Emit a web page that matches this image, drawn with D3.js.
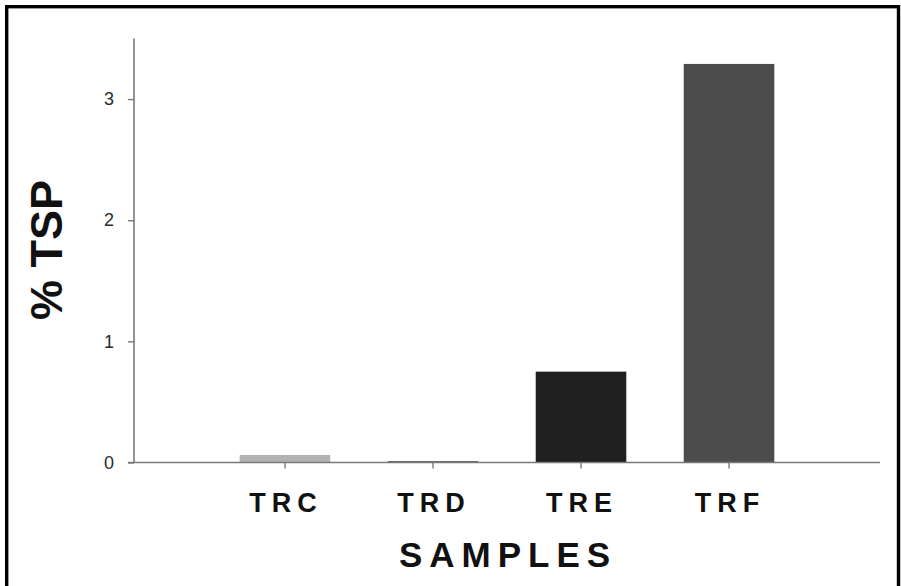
<!DOCTYPE html>
<html>
<head>
<meta charset="utf-8">
<script src="https://cdn.jsdelivr.net/npm/d3@7"></script>
<style>
  html, body { margin: 0; padding: 0; background: #fff; }
  svg { display: block; }
  text { font-family: Arial, "Liberation Sans", sans-serif; }
</style>
</head>
<body>
<svg id="chart" width="901" height="586"></svg>
<script>
const categories = ["TRC", "TRD", "TRE", "TRF"];
const values = [0.062, 0.01, 0.75, 3.29];
const barColors = ["#b2b2b2", "#2a2a2a", "#202020", "#4c4c4c"];
const yTicks = [0, 1, 2, 3];
const yLabel = "% TSP";
const xLabel = "SAMPLES";

const svg = d3.select("#chart");

// frame
svg.append("rect")
  .attr("x", 6.7).attr("y", 6.7)
  .attr("width", 891.8).attr("height", 620)
  .attr("fill", "#fff")
  .attr("stroke", "#000")
  .attr("stroke-width", 3.4);

const x = d3.scaleBand()
  .domain(categories)
  .range([134, 880])
  .paddingInner(0.388)
  .paddingOuter(0.714);

const y = d3.scaleLinear()
  .domain([0, 3.5])
  .range([462.5, 38.5]);

// bars
svg.append("g").selectAll("rect")
  .data(categories)
  .join("rect")
  .attr("x", d => x(d))
  .attr("width", x.bandwidth())
  .attr("y", (d, i) => y(values[i]))
  .attr("height", (d, i) => Math.max(1.5, y(0) - y(values[i])))
  .attr("fill", (d, i) => barColors[i]);

// y axis
const yAxis = svg.append("g")
  .attr("transform", "translate(134,0)")
  .call(d3.axisLeft(y).tickValues(yTicks).tickSize(6).tickPadding(14).tickFormat(d3.format("d")));
yAxis.select(".domain").attr("stroke", "#7a7a7a").attr("stroke-width", 1.6).attr("d", "M0,38.5V462.5");
yAxis.selectAll(".tick line").attr("stroke", "#7a7a7a").attr("stroke-width", 1.4);
yAxis.selectAll(".tick text").attr("fill", "#2a2a2a").style("font-size", "18px");

// x axis
const xAxis = svg.append("g")
  .attr("transform", "translate(0,462.5)")
  .call(d3.axisBottom(x).tickSize(6).tickPadding(24));
xAxis.select(".domain").attr("stroke", "#7a7a7a").attr("stroke-width", 1.6).attr("d", "M128,0H880");
xAxis.selectAll(".tick line").attr("stroke", "#7a7a7a").attr("stroke-width", 1.4);
xAxis.selectAll(".tick text")
  .attr("fill", "#111")
  .style("font-size", "27px")
  .attr("font-weight", "bold")
  .attr("letter-spacing", 6)
  .attr("dx", 1);

// axis titles
svg.append("text")
  .attr("transform", "translate(62,250) rotate(-90)")
  .attr("text-anchor", "middle")
  .attr("font-size", 45)
  .attr("font-weight", "bold")
  .attr("fill", "#111")
  .text(yLabel);

svg.append("text")
  .attr("x", 508)
  .attr("y", 566.5)
  .attr("text-anchor", "middle")
  .attr("font-size", 35)
  .attr("font-weight", "bold")
  .attr("letter-spacing", 7)
  .attr("fill", "#111")
  .text(xLabel);
</script>
</body>
</html>
